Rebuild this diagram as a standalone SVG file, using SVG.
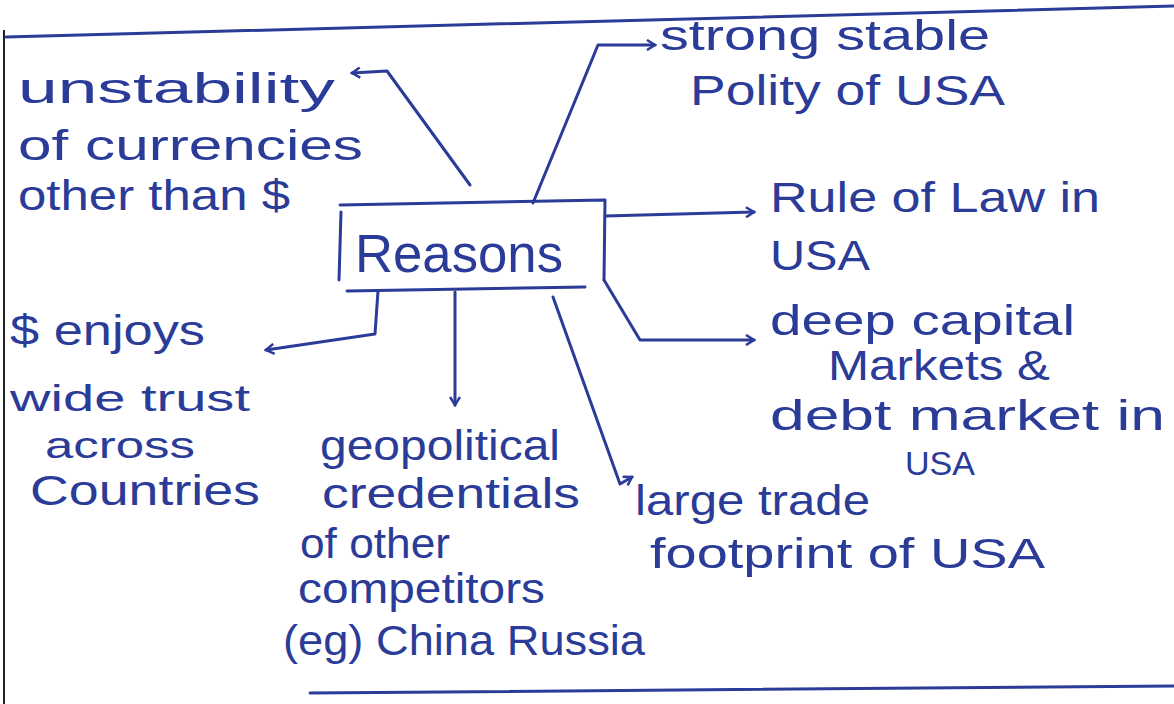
<svg xmlns="http://www.w3.org/2000/svg" width="1174" height="704" viewBox="0 0 1174 704">
<defs>
<style>
.t{font-family:"Liberation Sans",Arial,sans-serif;font-size:42px;fill:#2a3b98;}
.big{font-size:54px;}
.sm{font-size:34px;}
.md{font-size:37px;}
.ln{fill:none;stroke:#2a3b98;stroke-width:3;stroke-linecap:round;stroke-linejoin:round;}
</style>
<marker id="ah" viewBox="0 0 12 12" refX="10" refY="6" markerWidth="12" markerHeight="12" markerUnits="userSpaceOnUse" orient="auto">
<path d="M2,1 L10,6 L2,11" fill="none" stroke="#2a3b98" stroke-width="2.5"/>
</marker>
</defs>
<rect width="1174" height="704" fill="#ffffff"/>
<g id="frame">
<line x1="4" y1="30" x2="4" y2="704" stroke="#222" stroke-width="2"/>
<path class="ln" d="M6,37 L1174,6"/>
<path class="ln" d="M310,693 L1174,686"/>
</g>
<g id="reasons">
<path class="ln" d="M340,205 L605,200 L604,280"/>
<path class="ln" d="M341,212 L339,280"/>
<path class="ln" d="M347,291 L585,287"/>
<text class="t big" x="355" y="272" textLength="208" lengthAdjust="spacingAndGlyphs">Reasons</text>
</g>
<g id="connectors">
<path class="ln" d="M470,185 L387,71 L352,73" marker-end="url(#ah)"/>
<path class="ln" d="M533,203 L598,45 L655,45" marker-end="url(#ah)"/>
<path class="ln" d="M605,216 L754,212" marker-end="url(#ah)"/>
<path class="ln" d="M604,280 L640,340 L754,340" marker-end="url(#ah)"/>
<path class="ln" d="M553,297 L620,484 L632,477" marker-end="url(#ah)"/>
<path class="ln" d="M455,292 L455,405" marker-end="url(#ah)"/>
<path class="ln" d="M378,291 L375,334 L266,350" marker-end="url(#ah)"/>
</g>
<g id="node-unstability">
<text class="t" x="18" y="103" textLength="317" lengthAdjust="spacingAndGlyphs">unstability</text>
<text class="t" x="18" y="160" textLength="345" lengthAdjust="spacingAndGlyphs">of currencies</text>
<text class="t" x="18" y="210" textLength="272" lengthAdjust="spacingAndGlyphs">other than $</text>
</g>
<g id="node-polity">
<text class="t" x="660" y="50" textLength="330" lengthAdjust="spacingAndGlyphs">strong stable</text>
<text class="t" x="690" y="105" textLength="315" lengthAdjust="spacingAndGlyphs">Polity of USA</text>
</g>
<g id="node-law">
<text class="t" x="770" y="212" textLength="330" lengthAdjust="spacingAndGlyphs">Rule of Law in</text>
<text class="t" x="770" y="270" textLength="100" lengthAdjust="spacingAndGlyphs">USA</text>
</g>
<g id="node-markets">
<text class="t" x="770" y="335" textLength="305" lengthAdjust="spacingAndGlyphs">deep capital</text>
<text class="t" x="828" y="380" textLength="222" lengthAdjust="spacingAndGlyphs">Markets &amp;</text>
<text class="t" x="770" y="430" textLength="395" lengthAdjust="spacingAndGlyphs">debt market in</text>
<text class="t sm" x="905" y="475" textLength="70" lengthAdjust="spacingAndGlyphs">USA</text>
</g>
<g id="node-trade">
<text class="t" x="635" y="515" textLength="235" lengthAdjust="spacingAndGlyphs">large trade</text>
<text class="t" x="650" y="568" textLength="395" lengthAdjust="spacingAndGlyphs">footprint of USA</text>
</g>
<g id="node-trust">
<text class="t" x="10" y="345" textLength="195" lengthAdjust="spacingAndGlyphs">$ enjoys</text>
<text class="t md" x="10" y="411" textLength="240" lengthAdjust="spacingAndGlyphs">wide trust</text>
<text class="t md" x="45" y="458" textLength="150" lengthAdjust="spacingAndGlyphs">across</text>
<text class="t" x="30" y="505" textLength="230" lengthAdjust="spacingAndGlyphs">Countries</text>
</g>
<g id="node-geopolitical">
<text class="t" x="320" y="460" textLength="240" lengthAdjust="spacingAndGlyphs">geopolitical</text>
<text class="t" x="322" y="508" textLength="258" lengthAdjust="spacingAndGlyphs">credentials</text>
<text class="t" x="300" y="558" textLength="150" lengthAdjust="spacingAndGlyphs">of other</text>
<text class="t" x="298" y="603" textLength="247" lengthAdjust="spacingAndGlyphs">competitors</text>
<text class="t" x="283" y="655" textLength="362" lengthAdjust="spacingAndGlyphs">(eg) China Russia</text>
</g>
</svg>
